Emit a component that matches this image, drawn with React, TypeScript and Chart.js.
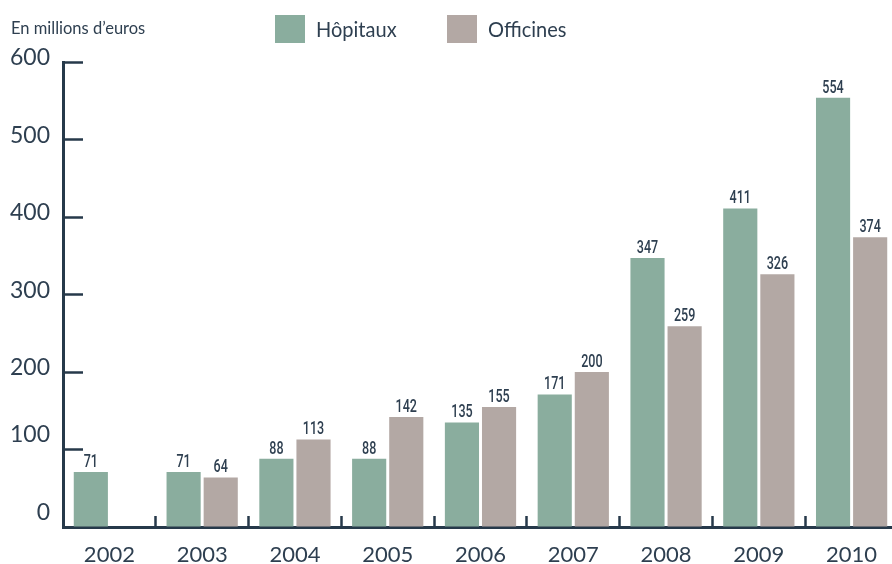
import React, { useEffect, useRef } from "react";
import { Chart, registerables } from "chart.js";

Chart.register(...registerables);

const categories = ["2002", "2003", "2004", "2005", "2006", "2007", "2008", "2009", "2010"];
const hopitaux = [71, 71, 88, 88, 135, 171, 347, 411, 554];
const officines = [null, 64, 113, 142, 155, 200, 259, 326, 374];
const seriesLabels = ["Hôpitaux", "Officines"];
const seriesColors = ["#8aad9e", "#b3a8a4"];
const raisedTickValues = [0, 100];
const unitLabel = "En millions d’euros";

const INK = "#2e3f50";
const AXIS = "#26394a";

const valueLabels = {
  id: "valueLabels",
  afterDatasetsDraw(chart: any) {
    const ctx = chart.ctx;
    ctx.save();
    ctx.fillStyle = INK;
    ctx.font = "500 19px Roboto";
    ctx.textAlign = "center";
    ctx.textBaseline = "alphabetic";
    chart.data.datasets.forEach((ds: any, di: number) => {
      const meta = chart.getDatasetMeta(di);
      meta.data.forEach((el: any, i: number) => {
        const v = ds.data[i];
        if (v == null) return;
        ctx.save();
        ctx.translate(el.x, el.y - 5);
        ctx.scale(0.66, 1);
        ctx.fillText(String(v), 0, 0);
        ctx.restore();
      });
    });
    ctx.restore();
  },
};

const headerLegend = {
  id: "headerLegend",
  afterDraw(chart: any) {
    const ctx = chart.ctx;
    ctx.save();
    ctx.textAlign = "left";
    ctx.textBaseline = "middle";
    ctx.fillStyle = INK;
    ctx.font = "16.5px Lato";
    ctx.fillText(unitLabel, 11, 29);
    const starts = [275, 447];
    chart.data.datasets.forEach((ds: any, i: number) => {
      const x = starts[i];
      ctx.fillStyle = ds.backgroundColor;
      ctx.fillRect(x, 15, 30, 28);
      ctx.fillStyle = INK;
      ctx.font = "22px Lato";
      ctx.save();
      ctx.translate(x + 41, 30);
      ctx.scale(0.91, 1);
      ctx.fillText(ds.label, 0, 0);
      ctx.restore();
    });
    ctx.restore();
  },
};

export default function App() {
  const ref = useRef<HTMLCanvasElement | null>(null);

  useEffect(() => {
    if (!ref.current) return;
    const chart = new Chart(ref.current, {
      type: "bar",
      data: {
        labels: categories,
        datasets: [
          {
            label: seriesLabels[0],
            data: hopitaux,
            backgroundColor: seriesColors[0],
            borderWidth: 0,
            categoryPercentage: 0.8,
            barPercentage: 0.92,
          },
          {
            label: seriesLabels[1],
            data: officines,
            backgroundColor: seriesColors[1],
            borderWidth: 0,
            categoryPercentage: 0.8,
            barPercentage: 0.92,
          },
        ],
      },
      options: {
        animation: false,
        responsive: false,
        layout: { padding: { top: 62, left: 0, right: 0, bottom: 0 } },
        plugins: {
          legend: { display: false },
          tooltip: { enabled: false },
          title: { display: false },
        },
        scales: {
          x: {
            grid: {
              display: true,
              drawOnChartArea: false,
              drawTicks: true,
              tickLength: -11,
              tickWidth: 2.5,
              tickColor: AXIS,
              offset: true,
            },
            border: { display: true, color: AXIS, width: 3 },
            ticks: {
              color: INK,
              font: { family: "Lato", size: 22 },
              padding: 26,
              maxRotation: 0,
              autoSkip: false,
            },
            afterFit: (s: any) => {
              s.height = 37;
              s.paddingLeft = 0;
              s.paddingRight = 0;
            },
          },
          y: {
            min: 0,
            max: 600,
            ticks: {
              stepSize: 100,
              color: INK,
              font: { family: "Lato", size: 23, lineHeight: 0.913 },
              padding: 33,
              labelOffset: -4,
              callback: (v: any) =>
                raisedTickValues.includes(Number(v)) ? [String(v), ""] : String(v),
            },
            grid: {
              drawOnChartArea: false,
              drawTicks: true,
              tickLength: -20,
              tickWidth: 2.5,
              tickColor: AXIS,
            },
            border: { display: true, color: AXIS, width: 3 },
            afterFit: (s: any) => {
              s.width = 63;
              s.paddingTop = 0;
              s.paddingBottom = 0;
            },
          },
        },
      },
      plugins: [valueLabels, headerLegend],
    } as any);
    return () => chart.destroy();
  }, []);

  return (
    <div
      style={{
        position: "fixed",
        left: 0,
        top: 0,
        width: 892,
        height: 564,
        overflow: "hidden",
        background: "#fff",
      }}
    >
      <canvas ref={ref} width={898} height={564} style={{ display: "block" }} />
    </div>
  );
}
